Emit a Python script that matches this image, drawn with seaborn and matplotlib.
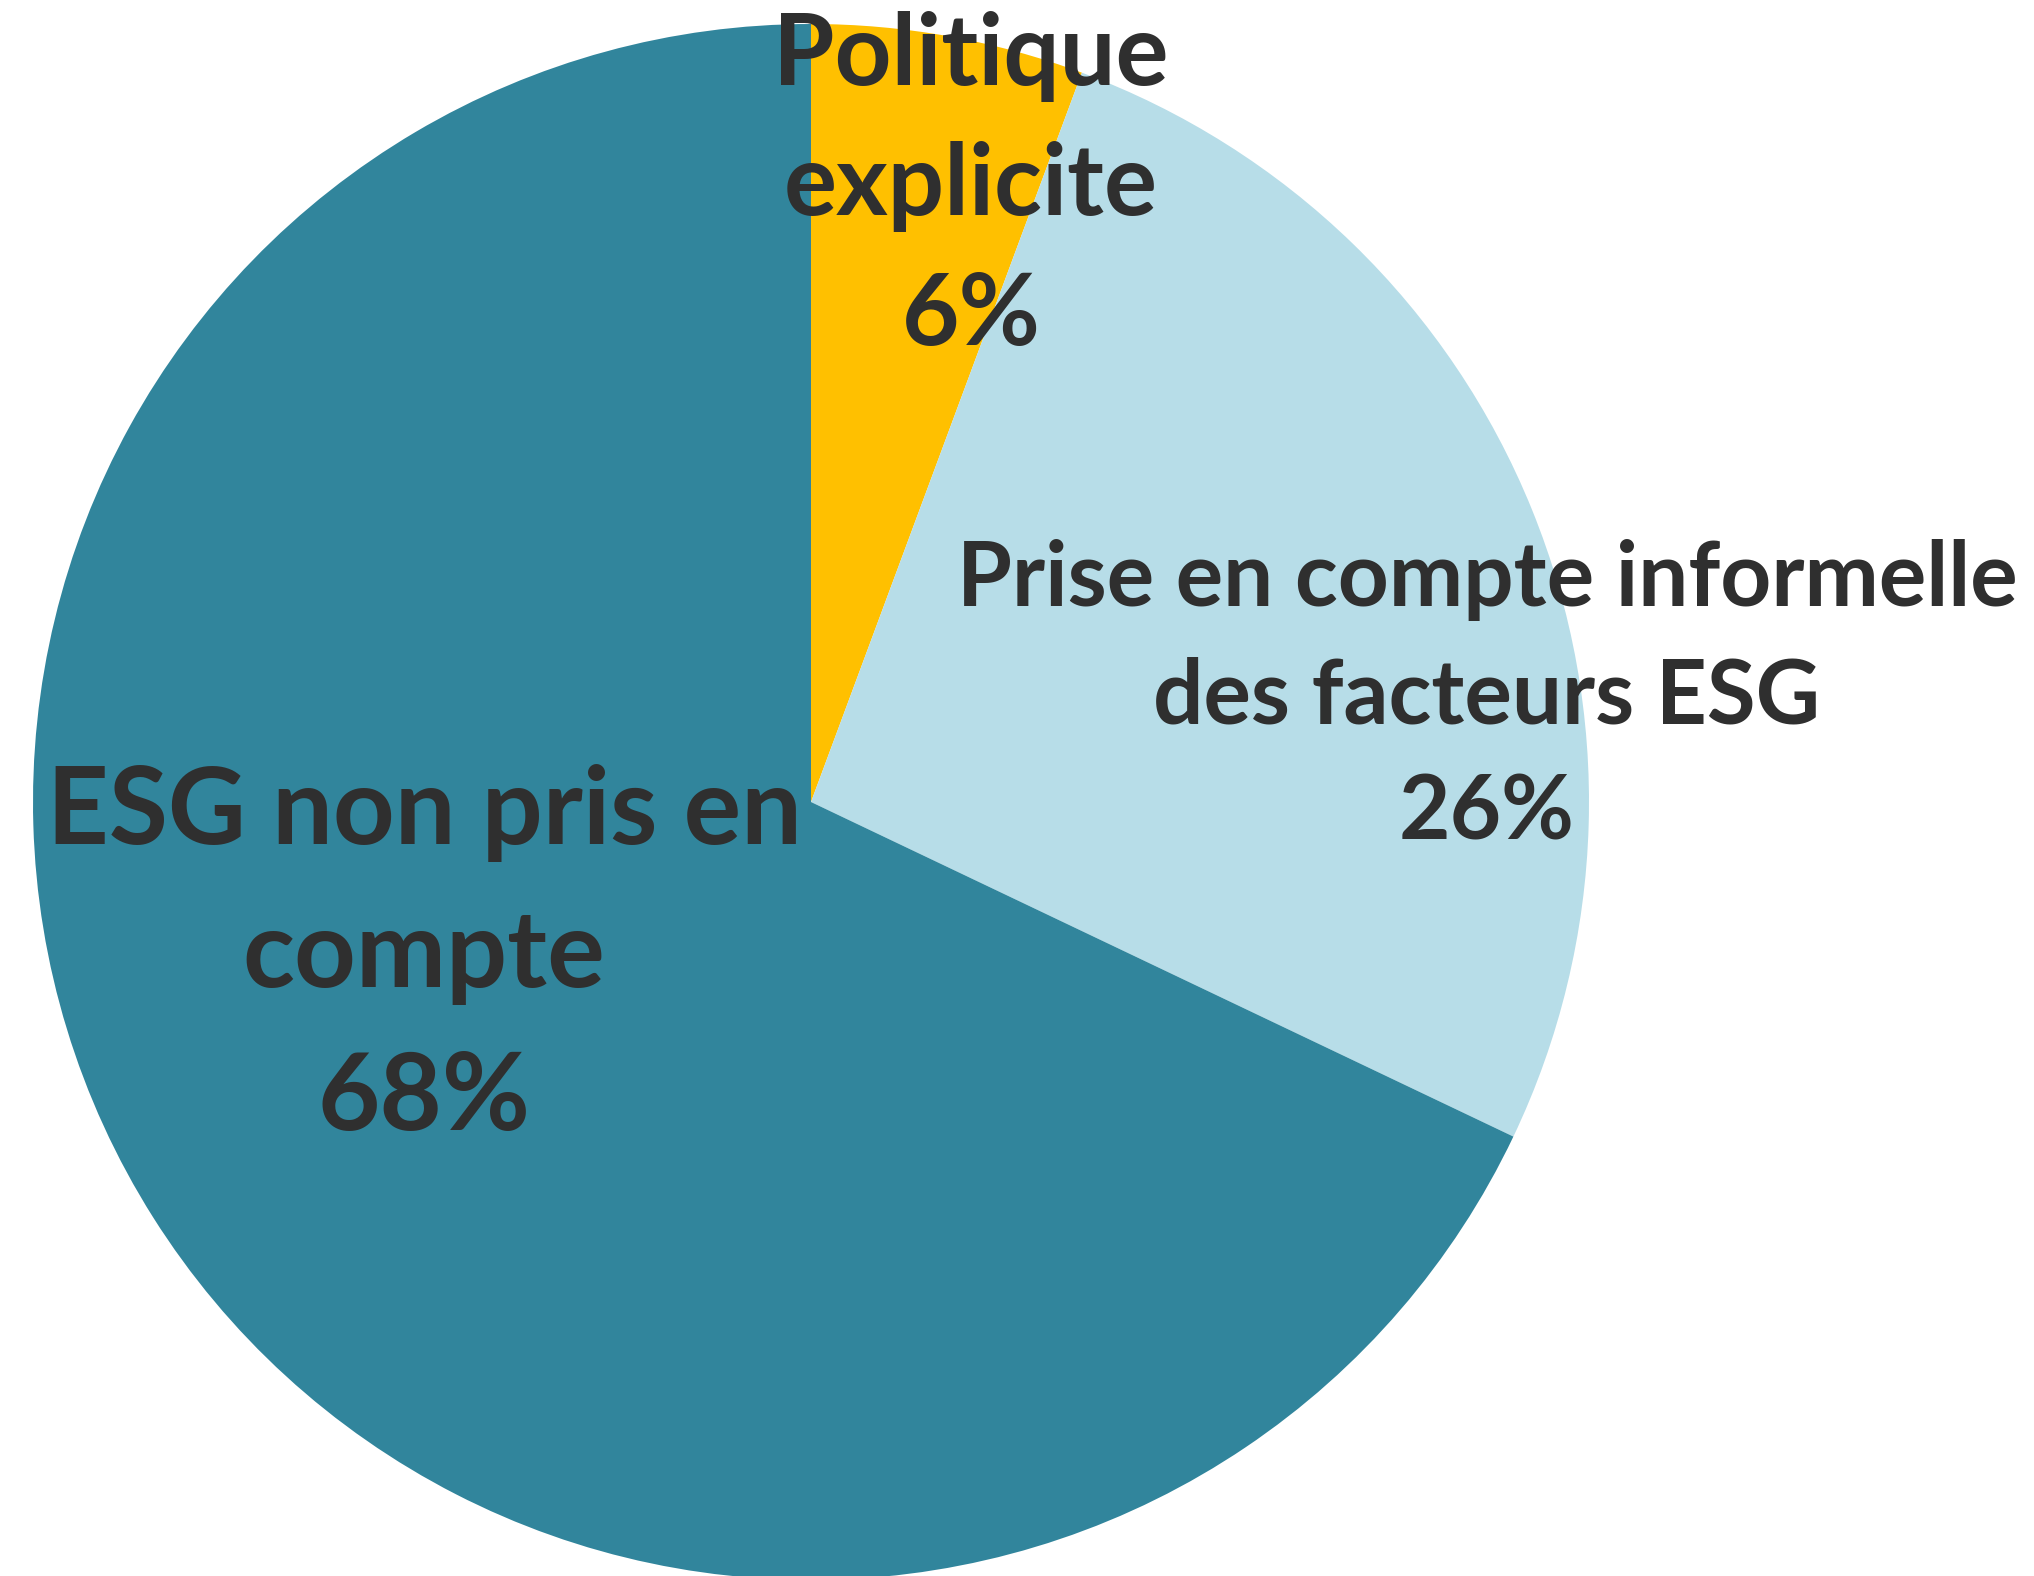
import matplotlib.pyplot as plt
import seaborn as sns

# data (counts of respondents; labels show rounded shares)
labels = ["Politique\nexplicite", "Prise en compte informelle\ndes facteurs ESG", "ESG non pris en\ncompte"]
counts = [3, 14, 36]
colors = ["#FFC000", "#B7DDE8", "#31859C"]

sns.set_theme(style="white")
plt.rcParams['font.family'] = ['Lato', 'DejaVu Sans']

W, H = 2034, 1576
CX, CY, R = 811, 802, 778   # pie centre / radius in pixels

fig = plt.figure(figsize=(W / 100, H / 100), dpi=100)
ax = fig.add_axes([0, 0, 1, 1])
ax.pie(counts, colors=colors, startangle=90, counterclock=False, radius=1,
       wedgeprops=dict(linewidth=0))
ax.set_xlim(-CX / R, (W - CX) / R)
ax.set_ylim(-(H - CY) / R, CY / R)
ax.set_aspect('auto')
ax.axis('off')

def px(x, y):
    return (x - CX) / R, (CY - y) / R

total = sum(counts)
# label layout: centre x, first baseline y, line step (px), font size (pt)
layout = [
    (971, 85, 130, 71.5),
    (1487, 606, 117, 64),
    (424, 844, 143, 77.5),
]
for lab, n, (x, y0, step, fs) in zip(labels, counts, layout):
    lines = lab.split("\n") + [f"{round(100 * n / total)}%"]
    for i, line in enumerate(lines):
        tx, ty = px(x, y0 + i * step)
        ax.text(tx, ty, line, ha='center', va='baseline', fontsize=fs,
                fontweight='bold', color='#2F2F2F')

plt.savefig('out.png', dpi=100)
